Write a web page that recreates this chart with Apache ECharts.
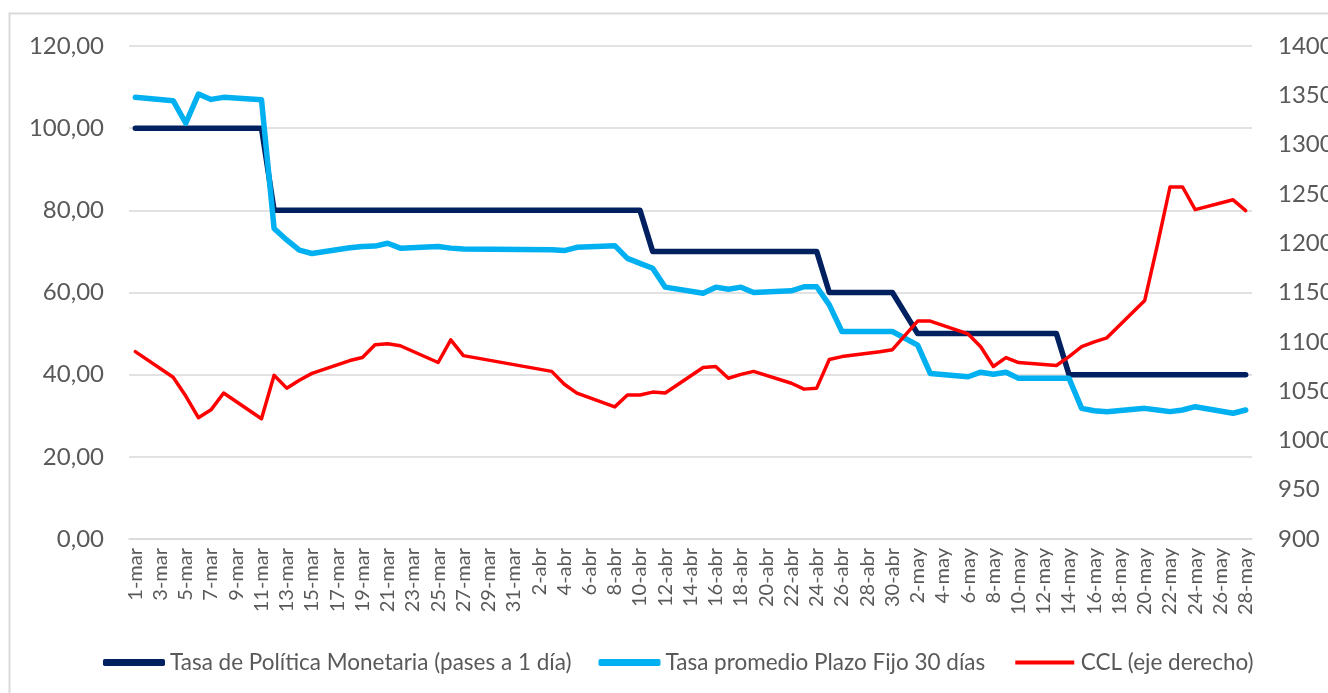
<!DOCTYPE html>
<html>
<head>
<meta charset="utf-8">
<script src="https://cdn.jsdelivr.net/npm/echarts@6/dist/echarts.min.js"></script>
<style>
html,body{margin:0;padding:0;background:#fff}
#main{width:1328px;height:693px}
</style>
</head>
<body>
<div id="main"></div>
<script>
// dias: 1-mar .. 28-may (2024), null = sin operaciones (fin de semana / feriado)
var meses = ['mar', 'abr', 'may']
var diasPorMes = [31, 30, 28]
var fechas = []
for (var m = 0; m < meses.length; m++) {
    for (var d = 1; d <= diasPorMes[m]; d++) fechas.push(d + '-' + meses[m])
}

var tpm = [
    // mar
    100, null, null, 100, 100, 100, 100, 100, null, null, 100, 80, 80, 80, 80, null, null,
    80, 80, 80, 80, 80, null, null, 80, 80, 80, null, null, null, null,
    // abr
    null, null, 80, 80, 80, null, null, 80, 80, 80, 70, 70, null, null, 70, 70, 70, 70, 70,
    null, null, 70, 70, 70, 60, 60, null, null, 60, 60,
    // may
    null, 50, 50, null, null, 50, 50, 50, 50, 50, null, null, 50, 40, 40, 40, 40, null, null,
    40, 40, 40, 40, 40, null, null, 40, 40
]

var plazoFijo = [
    107.5, null, null, 106.7, 101.2, 108.3, 107.0, 107.5, null, null, 106.9, 75.6, 72.8, 70.3, 69.5, null, null,
    70.9, 71.2, 71.3, 72.0, 70.8, null, null, 71.2, 70.8, 70.6, null, null, null, null,
    null, null, 70.4, 70.2, 71.0, null, null, 71.4, 68.3, 67.1, 65.9, 61.3, null, null, 59.8, 61.3, 60.8, 61.3, 60.0,
    null, null, 60.4, 61.4, 61.4, 57.0, 50.5, null, null, 50.5, 50.5,
    null, 47.2, 40.3, null, null, 39.5, 40.6, 40.1, 40.6, 39.1, null, null, 39.1, 39.1, 31.8, 31.2, 31.0, null, null,
    31.8, 31.4, 31.0, 31.4, 32.2, null, null, 30.6, 31.4
]

var ccl = [
    1090, null, null, 1064, 1045, 1023, 1031, 1048, null, null, 1022, 1066, 1053, 1061, 1068, null, null,
    1081, 1084, 1097, 1098, 1096, null, null, 1079, 1102, 1086, null, null, null, null,
    null, null, 1070, 1057, 1048, null, null, 1034, 1046, 1046, 1049, 1048, null, null, 1074, 1075, 1063, 1067, 1070,
    null, null, 1058, 1052, 1053, 1082, 1085, null, null, 1090, 1092,
    null, 1121, 1121, null, null, 1108, 1095, 1075, 1084, 1079, null, null, 1076, 1085, 1095, 1100, 1104, null, null,
    1142, 1198, 1257, 1257, 1234, null, null, 1244, 1233
]

var nombres = ['Tasa de Política Monetaria (pases a 1 día)', 'Tasa promedio Plazo Fijo 30 días', 'CCL (eje derecho)']
var colores = ['#002060', '#00B0F0', '#FF0000']

var myChart = echarts.init(document.getElementById('main'))
var fuente = 'Lato'
var gris = '#595959'

option = {
    backgroundColor: '#fff',
    animation: false,
    graphic: [{
        type: 'rect',
        shape: {x: 9.5, y: 13.5, width: 1400, height: 800},
        style: {fill: 'none', stroke: '#D9D9D9', lineWidth: 2},
        silent: true
    }],
    grid: {left: 129, right: 76, top: 46, bottom: 154, outerBoundsMode: 'none', containLabel: false},
    legend: {
        left: 98,
        top: 646,
        itemWidth: 62,
        itemHeight: 7,
        itemGap: 27,
        textStyle: {fontFamily: fuente, fontSize: 22.5, color: gris},
        data: [
            {name: nombres[0], icon: 'roundRect'},
            {name: nombres[1], icon: 'roundRect'},
            {name: nombres[2], icon: 'rect', itemStyle: {borderColor: '#fff', borderWidth: 3}}
        ]
    },
    xAxis: {
        type: 'category',
        data: fechas,
        boundaryGap: true,
        axisLine: {lineStyle: {color: '#D9D9D9', width: 1.5}},
        axisTick: {interval: 1, length: 7, lineStyle: {color: '#D9D9D9', width: 1.5}},
        axisLabel: {interval: 1, rotate: 90, fontFamily: fuente, fontSize: 20, color: gris, margin: 9}
    },
    yAxis: [{
        type: 'value',
        min: 0, max: 120, interval: 20,
        axisLine: {show: false},
        axisTick: {show: false},
        splitLine: {lineStyle: {color: '#D9D9D9', width: 1.5}},
        axisLabel: {
            fontFamily: fuente, fontSize: 24, color: gris, margin: 25,
            formatter: function (v) { return v.toFixed(2).replace('.', ',') }
        }
    }, {
        type: 'value',
        min: 900, max: 1400, interval: 50,
        axisLine: {show: false},
        axisTick: {show: false},
        splitLine: {show: false},
        axisLabel: {
            fontFamily: fuente, fontSize: 24, color: gris, margin: 26,
            formatter: function (v) { return String(v) }
        }
    }],
    series: [{
        name: nombres[0],
        type: 'line',
        data: tpm,
        connectNulls: true,
        showSymbol: false,
        symbol: 'none',
        color: colores[0],
        lineStyle: {width: 5.5, cap: 'round', join: 'round'}
    }, {
        name: nombres[1],
        type: 'line',
        data: plazoFijo,
        connectNulls: true,
        showSymbol: false,
        symbol: 'none',
        color: colores[1],
        lineStyle: {width: 5.5, cap: 'round', join: 'round'}
    }, {
        name: nombres[2],
        type: 'line',
        yAxisIndex: 1,
        data: ccl,
        connectNulls: true,
        showSymbol: false,
        symbol: 'none',
        color: colores[2],
        lineStyle: {width: 3.5, cap: 'round', join: 'round'}
    }]
}
myChart.setOption(option)
</script>
</body>
</html>
